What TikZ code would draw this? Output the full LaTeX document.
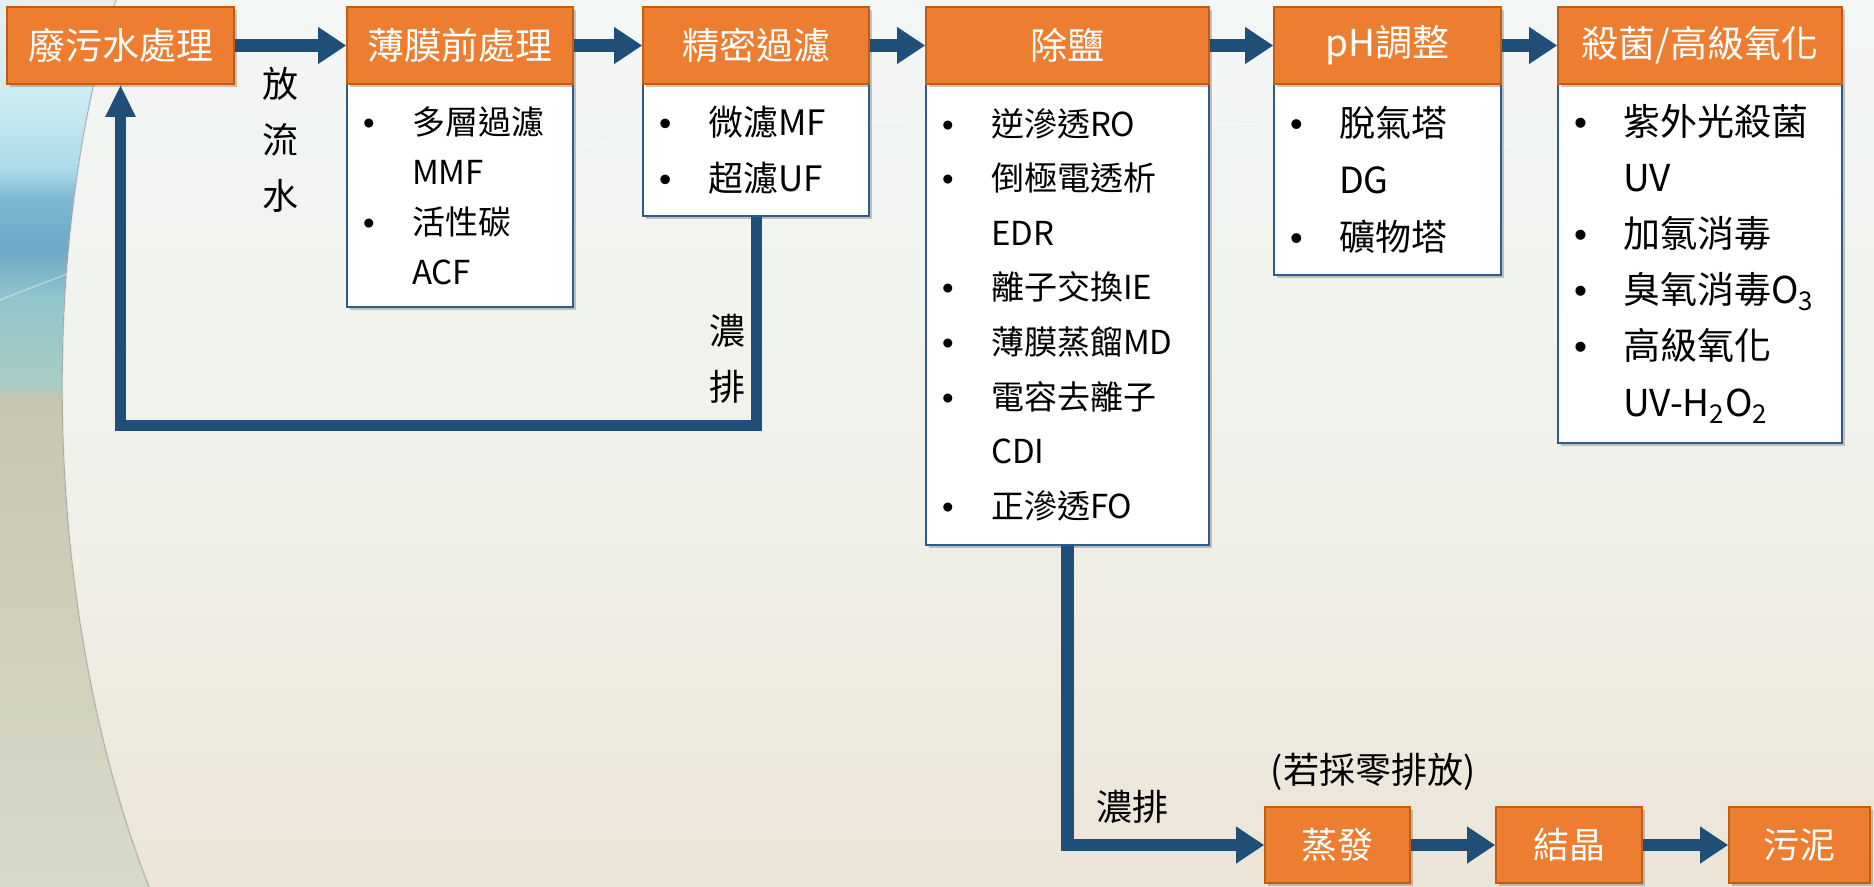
\documentclass[tikz,border=0pt]{standalone}
\usepackage{fontspec}
\setmainfont{Noto Sans CJK TC}
\newfontfamily\bulfont{Liberation Sans}
\usetikzlibrary{arrows.meta,shadows}
\definecolor{hdrfill}{HTML}{ED7D31}
\definecolor{hdrline}{HTML}{C55A11}
\definecolor{bodyline}{HTML}{2E5B8A}
\definecolor{flowblue}{HTML}{1F4E79}
\definecolor{bgtop}{HTML}{F2F6F5}
\definecolor{bgmid}{HTML}{F0F1E9}
\definecolor{bgbot}{HTML}{ECE4D7}
\definecolor{lbA}{HTML}{E6EFF0}
\definecolor{lbB}{HTML}{CFEDF3}
\definecolor{lbC}{HTML}{A9DCEA}
\definecolor{lbD}{HTML}{7DB6D2}
\definecolor{lbE}{HTML}{6FA7C6}
\definecolor{lbF}{HTML}{93C6CC}
\definecolor{lbG}{HTML}{A8CCC4}
\definecolor{lbH}{HTML}{C8C6B0}
\definecolor{lbI}{HTML}{D8DAC8}
\pgfdeclareverticalshading{bgmain}{100bp}{color(0bp)=(bgbot); color(25bp)=(bgbot); color(47bp)=(bgmid); color(75bp)=(bgtop); color(100bp)=(bgtop)}
\pgfdeclareverticalshading{bgleft}{100bp}{color(0bp)=(lbI); color(25bp)=(lbI); color(52.5bp)=(lbH); color(53.3bp)=(lbG); color(58.1bp)=(lbF); color(60.9bp)=(lbE); color(63.7bp)=(lbD); color(65.4bp)=(lbC); color(69.9bp)=(lbB); color(75bp)=(lbA); color(100bp)=(lbA)}
\newcommand{\bl}{\makebox[32.5pt][l]{\hspace{8pt}{\bulfont •}}}
\newcommand{\cl}{\hspace*{32.5pt}}
\tikzset{
  boxshadow/.style={drop shadow={shadow xshift=1.3pt,shadow yshift=-1.3pt,opacity=.3,fill=black!70}},
  hdr/.style={draw=hdrline, line width=0.8pt, fill=hdrfill, text=white, inner sep=0pt,
    minimum height=38.5pt, font=\fontsize{18.5}{22}\selectfont, boxshadow},
  bodybox/.style={draw=bodyline, line width=1pt, fill=white, inner sep=0pt, align=left, boxshadow},
  endbox/.style={draw=hdrline, line width=0.8pt, fill=hdrfill, text=white, inner sep=0pt,
    minimum height=38pt, font=\fontsize{18}{22}\selectfont, boxshadow},
  flow/.style={draw=flowblue, line width=6.3pt, -{Triangle[length=14pt,width=17.5pt]}},
  loopline/.style={draw=flowblue, line width=5.5pt, -{Triangle[length=16pt,width=14pt]}},
  lbl/.style={text=black, inner sep=0pt, font=\fontsize{18}{28}\selectfont}
}
\begin{document}
\begin{tikzpicture}[x=0.5pt,y=-0.5pt]
\useasboundingbox (0,0) rectangle (1874,887);
% background
\fill[shading=bgmain] (0,0) rectangle (1874,887);
\fill[shading=bgleft] (0,0) -- (116,0) .. controls (35,260) and (45,620) .. (149,887) -- (0,887) -- cycle;
\draw[gray!60, opacity=.5, line width=0.8pt] (116,0) .. controls (35,260) and (45,620) .. (149,887);
\draw[white, opacity=.35, line width=0.8pt] (0,300) .. controls (250,200) and (500,135) .. (900,120) .. controls (1300,110) and (1600,150) .. (1874,200);

% bodies
\node[bodybox, text width=113pt, minimum height=111.5pt, font=\fontsize{16.5}{25}\selectfont] (b2) at (460,195.5)
  {\bl 多層過濾\\\cl MMF\\\bl 活性碳\\\cl ACF};
\node[bodybox, text width=113pt, minimum height=66pt, font=\fontsize{17.5}{28}\selectfont] (b3) at (756,150)
  {\bl 微濾MF\\\bl 超濾UF};
\node[bodybox, text width=141.5pt, minimum height=230.5pt, font=\fontsize{16.5}{27.3}\selectfont] (b4) at (1067.5,314.5)
  {\bl 逆滲透RO\\\bl 倒極電透析\\\cl EDR\\\bl 離子交換IE\\\bl 薄膜蒸餾MD\\\bl 電容去離子\\\cl CDI\\\bl 正滲透FO};
\node[bodybox, text width=113.5pt, minimum height=95.5pt, font=\fontsize{18}{28.5}\selectfont] (b5) at (1387.5,179.5)
  {\bl 脫氣塔\\\cl DG\\\bl 礦物塔};
\node[bodybox, text width=142pt, minimum height=179.5pt, font=\fontsize{18.5}{28.1}\selectfont] (b6) at (1700,263.5)
  {\bl 紫外光殺菌\\\cl UV\\\bl 加氯消毒\\\bl 臭氧消毒O\textsubscript{3}\\\bl 高級氧化\\\cl UV-H\textsubscript{2}O\textsubscript{2}};

% headers
\node[hdr, minimum width=113.5pt] (h1) at (120.5,45.5) {廢污水處理};
\node[hdr, minimum width=113pt] (h2) at (460,45.5) {薄膜前處理};
\node[hdr, minimum width=113pt] (h3) at (756,45.5) {精密過濾};
\node[hdr, minimum width=141.5pt] (h4) at (1067.5,45.5) {除鹽};
\node[hdr, minimum width=113.5pt] (h5) at (1387.5,45.5) {pH調整};
\node[hdr, minimum width=142pt] (h6) at (1700,45.5) {殺菌/高級氧化};

% bottom row
\node[endbox, minimum width=72.5pt] (e1) at (1337.5,845) {蒸發};
\node[endbox, minimum width=73pt] (e2) at (1569,845) {結晶};
\node[endbox, minimum width=70.5pt] (e3) at (1799.5,845) {污泥};

% connectors
\draw[flow] (h1.east) -- (h2.west);
\draw[flow] (h2.east) -- (h3.west);
\draw[flow] (h3.east) -- (h4.west);
\draw[flow] (h4.east) -- (h5.west);
\draw[flow] (h5.east) -- (h6.west);
\coordinate (lp) at (0,426);
\draw[loopline] (b3.south) -- (b3.south |- lp) -| (h1.south);
\draw[flow] (b4.south) |- (e1.west);
\draw[flow] (e1.east) -- (e2.west);
\draw[flow] (e2.east) -- (e3.west);

% labels
\node[lbl, align=center] (l1) at (280,139.5) {放\\流\\水};
\node[lbl, align=center] (l2) at (727,359) {濃\\排};
\node[lbl] (l3) at (1132,807) {濃排};
\node[lbl] (l4) at (1373,772) {(若採零排放)};
\end{tikzpicture}
\end{document}
